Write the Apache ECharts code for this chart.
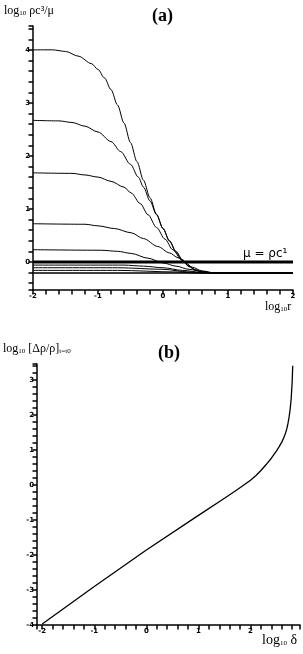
<!DOCTYPE html>
<html><head><meta charset="utf-8">
<script src="https://cdn.jsdelivr.net/npm/echarts@6/dist/echarts.min.js"></script>
<style>html,body{margin:0;padding:0;background:#fff}#c{width:303px;height:654px}</style>
</head><body><div id="c"></div>
<script>
// ---- Panel (a): log10 rho c^3/mu vs log10 r ----
const aTickX = [-2, -1, 0, 1, 2];
const aTickY = [0, 1, 2, 3, 4];
const c4x = [-2, -1.7, -1.5, -1.3, -1.1, -1.0, -0.9, -0.8, -0.7, -0.6, -0.5, -0.4, -0.3, -0.2, -0.1, 0, 0.1, 0.2, 0.3, 0.4, 0.5, 0.6, 0.8, 2];
const c4y = [4.0, 4.0, 3.97, 3.88, 3.74, 3.63, 3.47, 3.25, 2.96, 2.62, 2.25, 1.89, 1.54, 1.21, 0.9, 0.63, 0.4, 0.2, 0.04, -0.08, -0.15, -0.19, -0.21, -0.21];
const c3x = [-2, -1.6, -1.4, -1.2, -1.0, -0.8, -0.65, -0.5, -0.38, -0.3, -0.2, -0.1, 0, 0.1, 0.2, 0.3, 0.4, 0.5, 0.6, 0.8, 2];
const c3y = [2.67, 2.66, 2.63, 2.56, 2.45, 2.27, 2.08, 1.84, 1.6, 1.41, 1.15, 0.89, 0.63, 0.39, 0.18, 0.02, -0.09, -0.16, -0.19, -0.21, -0.21];
const c2x = [-2, -1.4, -1.2, -1.0, -0.8, -0.6, -0.49, -0.35, -0.23, -0.1, 0.03, 0.15, 0.28, 0.4, 0.5, 0.6, 0.8, 2];
const c2y = [1.68, 1.67, 1.64, 1.6, 1.52, 1.41, 1.3, 1.1, 0.89, 0.65, 0.43, 0.23, 0.05, -0.08, -0.15, -0.19, -0.21, -0.21];
const c1x = [-2, -1.2, -1.0, -0.75, -0.49, -0.3, -0.08, 0.1, 0.23, 0.35, 0.45, 0.6, 0.8, 2];
const c1y = [0.72, 0.71, 0.68, 0.63, 0.55, 0.44, 0.29, 0.17, 0.08, -0.02, -0.1, -0.17, -0.21, -0.21];
const c0x = [-2, -0.95, -0.7, -0.49, -0.23, 0, 0.2, 0.4, 0.6, 0.8, 2];
const c0y = [0.23, 0.22, 0.2, 0.16, 0.07, -0.02, -0.08, -0.14, -0.18, -0.21, -0.21];
const cm1x = [-2, -0.6, -0.3, 0, 0.3, 0.6, 0.8, 2];
const cm1y = [-0.06, -0.06, -0.08, -0.11, -0.16, -0.2, -0.21, -0.21];
const cm2x = [-2, -0.7, 0, 0.4, 0.7, 2];
const cm2y = [-0.11, -0.11, -0.14, -0.19, -0.21, -0.21];
const cm3x = [-2, -0.7, 0.2, 0.5, 2];
const cm3y = [-0.16, -0.16, -0.19, -0.21, -0.21];
const cm4x = [-2, 2];
const cm4y = [-0.21, -0.21];
const muLineX = [-2, 2];
const muLineY = [0, 0];

// ---- Panel (b): log10 [drho/rho] vs log10 delta ----
const bTickX = [-2, -1, 0, 1, 2];
const bTickY = [-4, -3, -2, -1, 0, 1, 2, 3];
const bx = [-2, -1, 0, 1, 1.5, 1.75, 2, 2.1, 2.2, 2.3, 2.4, 2.5, 2.55, 2.6, 2.64, 2.67, 2.7, 2.72, 2.74, 2.76, 2.78, 2.8, 2.81];
const by = [-3.97, -2.9, -1.86, -0.87, -0.38, -0.13, 0.13, 0.26, 0.41, 0.58, 0.76, 0.97, 1.09, 1.22, 1.35, 1.47, 1.62, 1.76, 1.93, 2.15, 2.45, 2.95, 3.4];

function pts(xs, ys) { return xs.map((x, i) => [x, ys[i]]); }
function fmt(list) {
  return function (v) {
    const r = Math.round(v);
    return (Math.abs(v - r) < 1e-6 && list.indexOf(r) >= 0) ? String(r) : '';
  };
}
const axisFont = { fontSize: 7, fontWeight: 'bold', color: '#000', fontFamily: 'DejaVu Sans' };
function valAxis(gi, min, max, ticks) {
  return {
    type: 'value', gridIndex: gi, min: min, max: max,
    splitNumber: 25,
    splitLine: { show: false },
    axisLine: { show: true, onZero: false, lineStyle: { color: '#000', width: 1.5 } },
    axisTick: { show: true, length: 4.5, lineStyle: { color: '#000', width: 1.5 } },
    axisLabel: Object.assign({ formatter: fmt(ticks), margin: 3 }, axisFont)
  };
}
function line(xs, ys, w) {
  return {
    type: 'line', xAxisIndex: 0, yAxisIndex: 0, data: pts(xs, ys), showSymbol: false,
    smooth: 0.3, smoothMonotone: 'x', silent: true, animation: false,
    lineStyle: { color: '#000', width: w || 1 }
  };
}

const chart = echarts.init(document.getElementById('c'), null, { renderer: 'canvas' });
const seriesA = [
  line(c4x, c4y), line(c3x, c3y), line(c2x, c2y), line(c1x, c1y), line(c0x, c0y),
  line(cm1x, cm1y), line(cm2x, cm2y), line(cm3x, cm3y), line(cm4x, cm4y, 1.5),
  line(muLineX, muLineY, 3)
];
const seriesB = [{
  type: 'line', xAxisIndex: 1, yAxisIndex: 1, data: pts(bx, by), showSymbol: false,
  smooth: false, silent: true, animation: false,
  lineStyle: { color: '#000', width: 1.3 }
}];

const serif = 'Liberation Serif';
chart.setOption({
  animation: false,
  backgroundColor: '#fff',
  grid: [
    { left: 33, width: 260, top: 26, height: 264 },
    { left: 37, width: 264, top: 364, height: 261 }
  ],
  xAxis: [
    Object.assign(valAxis(0, -2, 2, aTickX), { interval: 0.2 }),
    valAxis(1, -2.1, 2.95, bTickX)
  ],
  yAxis: [
    valAxis(0, -0.53, 4.45, aTickY),
    Object.assign(valAxis(1, -4, 3.45, bTickY), { interval: 0.2 })
  ],
  series: seriesA.concat(seriesB),
  graphic: [
    { type: 'text', left: 152, top: 7, style: { text: '(a)', font: 'bold 18px "Liberation Serif"', fill: '#000' } },
    { type: 'text', left: 158, top: 344, style: { text: '(b)', font: 'bold 18px "Liberation Serif"', fill: '#000' } },
    { type: 'text', left: 4, top: 5, style: {
      text: '{a|log}{s|10}{a| ρc³/μ}', fill: '#000',
      rich: { a: { fontFamily: serif, fontSize: 12, lineHeight: 14, verticalAlign: 'bottom' },
              s: { fontFamily: serif, fontSize: 7, lineHeight: 10, verticalAlign: 'bottom' } } } },
    { type: 'text', left: 265, top: 301, style: {
      text: '{a|log}{s|10}{a|r}', fill: '#000',
      rich: { a: { fontFamily: serif, fontSize: 12, lineHeight: 14, verticalAlign: 'bottom' },
              s: { fontFamily: serif, fontSize: 7, lineHeight: 10, verticalAlign: 'bottom' } } } },
    { type: 'text', left: 243, top: 248, style: { text: 'μ = ρc¹', font: '12px "DejaVu Sans"', fill: '#000' } },
    { type: 'text', left: 3, top: 343, style: {
      text: '{a|log}{s|10}{a| [Δρ/ρ]}{s|t=t0}', fill: '#000',
      rich: { a: { fontFamily: serif, fontSize: 12, lineHeight: 14, verticalAlign: 'bottom' },
              s: { fontFamily: serif, fontSize: 7, lineHeight: 10, verticalAlign: 'bottom' } } } },
    { type: 'text', left: 262, top: 633, style: {
      text: '{a|log}{s|10}{a| δ}', fill: '#000',
      rich: { a: { fontFamily: serif, fontSize: 14, lineHeight: 16, verticalAlign: 'bottom' },
              s: { fontFamily: serif, fontSize: 7, lineHeight: 11, verticalAlign: 'bottom' } } } }
  ]
});
</script></body></html>
